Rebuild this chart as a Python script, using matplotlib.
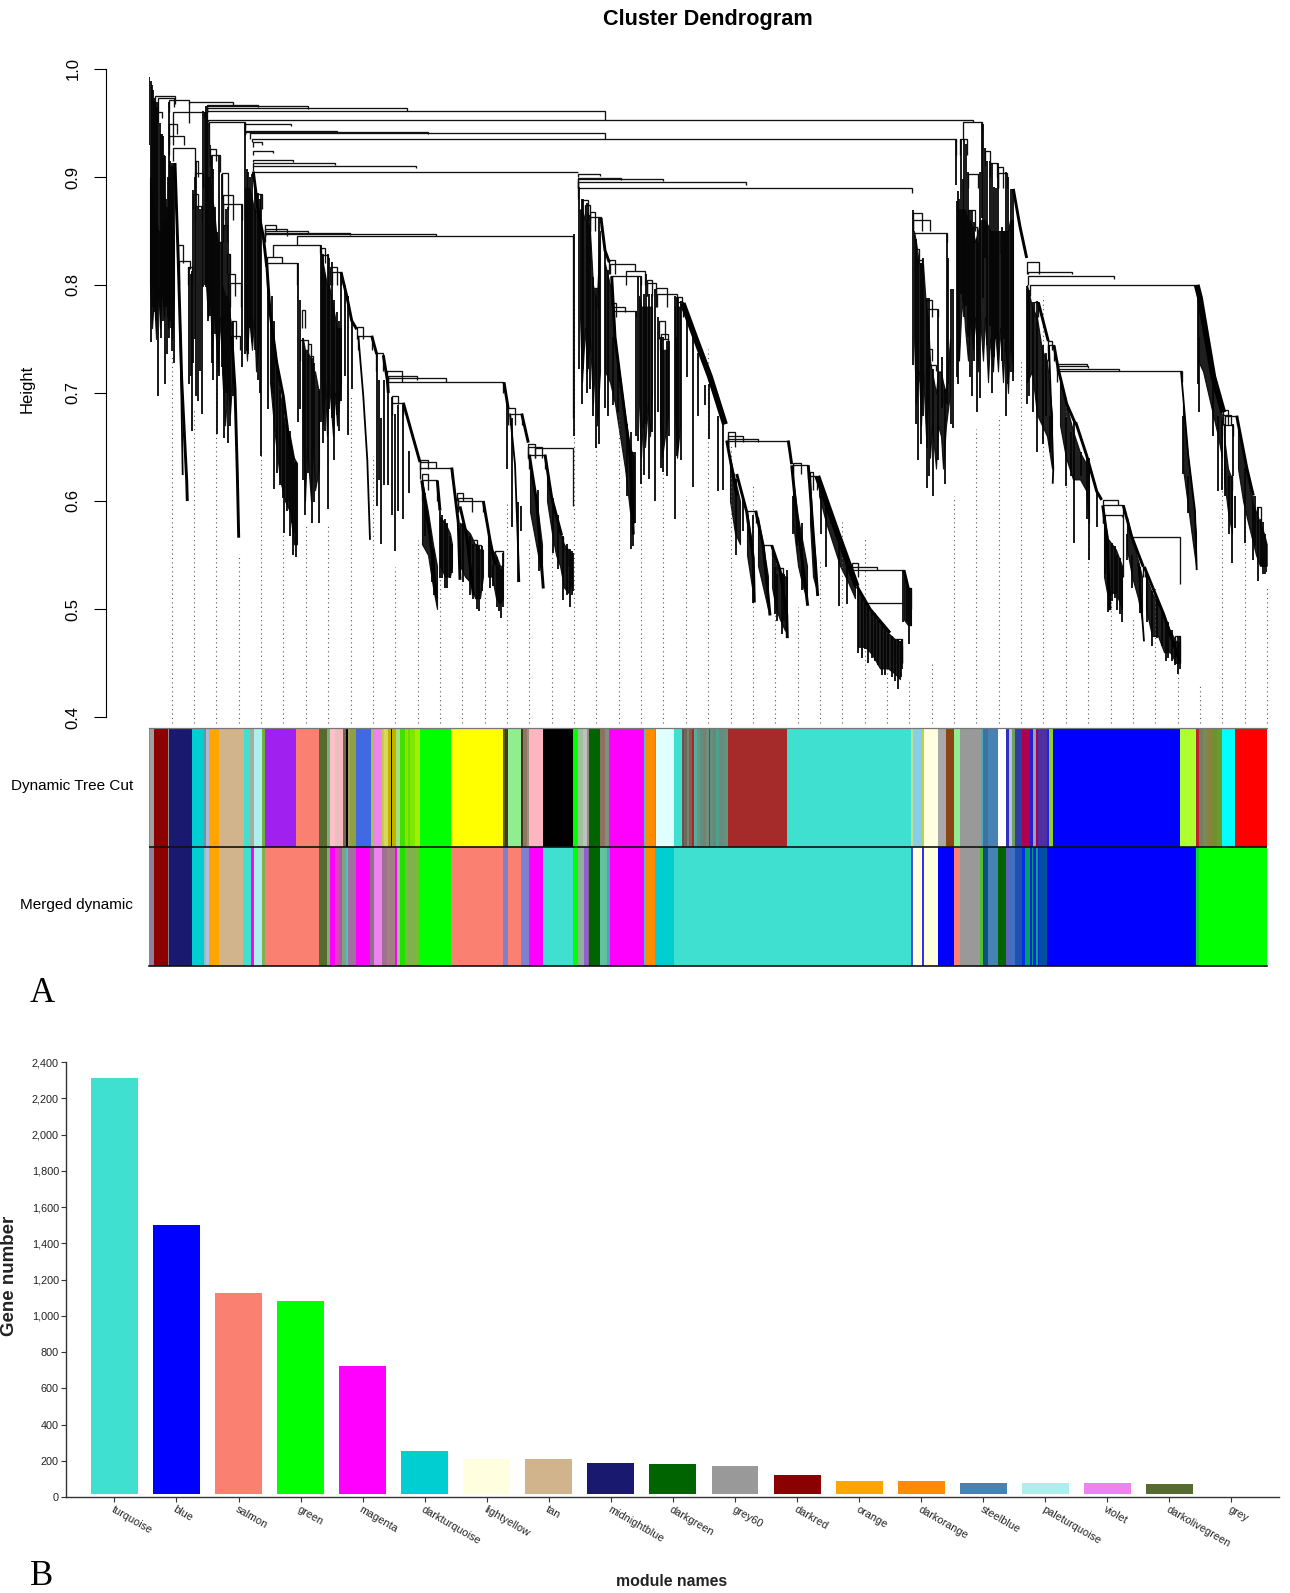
import matplotlib
matplotlib.use("Agg")
import matplotlib.pyplot as plt
from matplotlib import font_manager
from matplotlib.collections import LineCollection
import numpy as np

W, H = 1290, 1593
plt.rcParams['font.family'] = ['Liberation Sans', 'DejaVu Sans']
installed = {f.name for f in font_manager.fontManager.ttflist}
narrow = 'Liberation Sans Narrow' if 'Liberation Sans Narrow' in installed else 'Liberation Sans'
bar_label_size = 9.6 if narrow != 'Liberation Sans' else 7.8

# ---------- dendrogram data: (leaf position, height) ----------
# merges: left position, right position, merge height, left child height, right child height
merges_top = [
 (155,175,.975,.95,.968),(158,174,.973,.96,.965),(169,189.3,.971,.96,.968),(189.3,232.7,.969,.95,.966),
 (206.7,258.3,.967,.96,.965),(207.3,307.7,.966,.96,.963),(207,406.7,.9635,.96,.961),(207,605,.961,.95,.953),
 (208,973,.953,.951,.951),(209,245,.951,.93,.945),(245,290.7,.949,.94,.947),(245,336.7,.943,.94,.941),
 (245,428,.942,.94,.94),(250,605,.941,.935,.935),(252,956,.935,.932,.92),
 (253,262,.932,.928,.93),(253,273,.924,.92,.922),(253,293,.916,.914,.914),(253,335,.913,.91,.911),
 (253,416,.910,.906,.908),(253,578,.905,.90,.905),
 (578,600,.903,.90,.901),(578,621,.899,.89,.897),(578,663,.898,.89,.896),(578,746,.895,.89,.893),(578,912,.890,.88,.885),
]
merges_a = [
 (158,162,.96,.95,.955),(173,204,.96,.93,.955),(169,177,.949,.93,.94),(169,184,.938,.92,.93),(173,195,.927,.915,.915),
 (195,198.3,.915,.90,.90),(195,202.7,.904,.89,.89),(193,198,.884,.87,.87),(195,202,.873,.86,.86),
 (178,183,.837,.82,.82),(179,190,.822,.80,.815),(188,192,.817,.80,.80),
 (210,216,.926,.91,.915),(211,220,.920,.90,.905),(222,228,.904,.88,.87),(223,233,.883,.86,.86),(223,242,.875,.85,.86),
 (223,227,.856,.84,.84),(227,230,.829,.81,.81),(228,235,.810,.79,.79),(230,241,.802,.78,.78),(232,236,.767,.75,.75),(231,240,.753,.74,.74),
 (256,262.3,.884,.87,.87),
]
merges_b = [
 (265,275.7,.856,.85,.85),(265,286.7,.852,.845,.845),(265,308,.850,.845,.848),(265,350,.848,.845,.846),(265,435.7,.847,.84,.845),
 (296.7,573.3,.845,.837,.677),(273,320,.837,.826,.83),(266.7,281.7,.826,.82,.82),(266.7,296.7,.820,.80,.80),
 (301.7,305,.777,.76,.76),(300,308,.749,.73,.74),(307.7,311,.745,.73,.73),(308,312.7,.734,.72,.72),
 (320.7,325,.834,.82,.82),(321.7,328.3,.828,.81,.81),(330,336.7,.817,.80,.80),(331.7,341,.812,.80,.80),
 (356.7,363.3,.761,.75,.75),(358,371.7,.753,.74,.74),(376,383.3,.737,.72,.72),
 (386.7,401.7,.72,.71,.71),(388,416.7,.716,.71,.712),(388,445.7,.714,.71,.71),(388.3,503.3,.710,.70,.70),
 (391.7,398.3,.697,.69,.69),(391.7,403.3,.691,.68,.68),(420,428.3,.638,.63,.63),(420,436,.636,.63,.631),(420,451.7,.631,.62,.62),
 (421.7,428.3,.625,.61,.61),(421.7,437.3,.619,.60,.60),(456.7,463.3,.607,.60,.60),(458,471.7,.603,.59,.59),(458,483.3,.600,.59,.59),
 (470,476.7,.564,.55,.55),(473,481,.559,.55,.55),(495,502.7,.554,.54,.54),
 (508.3,515,.686,.67,.67),(510,521.7,.681,.67,.67),(528.3,535,.653,.64,.64),(528.3,541.7,.65,.64,.64),(535,573.3,.649,.64,.595),
 (529,545,.643,.63,.63),(561.7,563.3,.567,.55,.55),(563.3,568.3,.556,.54,.54),
]
merges_c = [
 (581.7,588.3,.879,.86,.86),(585,590,.874,.86,.86),(590,595,.868,.85,.85),(590,601,.863,.85,.85),(593.3,597.3,.797,.78,.78),
 (609.3,615,.823,.81,.81),(610,635,.819,.81,.813),(626,645,.813,.80,.80),(610.7,640.7,.808,.80,.80),
 (612.7,616,.783,.77,.77),(613,625,.78,.77,.775),(613,636,.776,.77,.77),
 (646.7,652.3,.805,.79,.79),(647.3,656,.802,.79,.79),(656,666.7,.797,.78,.78),(656.7,676.7,.792,.78,.78),
 (676,681.7,.789,.78,.78),(676.7,682.7,.784,.77,.77),(659,665,.767,.75,.75),(660.7,668.3,.755,.74,.74),(660,668,.75,.74,.74),
 (728,735,.664,.65,.65),(728,743,.66,.65,.655),(728,758.3,.657,.65,.655),(728.3,788.3,.656,.65,.65),
 (746.7,755.7,.591,.58,.58),(763.3,771.7,.559,.55,.55),(775,783.3,.538,.53,.53),
 (792.7,801,.635,.625,.625),(793,808.3,.633,.62,.62),(810,813.3,.627,.61,.61),(810,817.3,.623,.61,.61),
 (851.7,857.7,.543,.53,.53),(851.7,877,.539,.53,.536),(851.7,904,.536,.53,.536),(866.7,903.3,.506,.49,.505),
 (891.7,902.3,.472,.45,.45),(895,901.7,.466,.45,.45),(908.3,911,.519,.50,.50),
]
merges_d = [
 (913.3,921.7,.867,.85,.85),(913.3,930,.86,.85,.85),(914.3,947.3,.848,.84,.84),(915.7,921.7,.823,.81,.81),(915.7,919,.833,.82,.82),
 (925.7,931.7,.786,.77,.77),(925.7,938.3,.778,.76,.77),(927.3,931.7,.741,.73,.73),(928,935.7,.726,.71,.72),(943.3,946.7,.702,.69,.69),
 (963.3,981.7,.951,.935,.94),(960,966.7,.935,.92,.92),(985,990,.924,.91,.91),(990,996.7,.913,.90,.90),
 (998.3,1003.3,.909,.89,.89),(998.3,1007.3,.904,.89,.89),(968.3,978.3,.903,.89,.89),(968.3,975,.869,.85,.85),(973.3,976.7,.854,.84,.84),(1000,1005,.848,.83,.83),
 (1026.7,1039.3,.821,.81,.81),(1028.3,1071.7,.812,.81,.81),(1028.3,1114,.808,.80,.806),(1030,1196.7,.8,.79,.79),
 (1034,1038,.784,.77,.77),(1048,1051.7,.748,.74,.74),(1048,1054,.744,.73,.73),
 (1056.7,1086.7,.727,.72,.725),(1056.7,1088.3,.725,.72,.723),(1056.7,1119.3,.722,.72,.72),(1056.7,1181.7,.72,.71,.71),
 (1102.7,1118.3,.601,.59,.596),(1102.7,1123.3,.596,.58,.53),(1103.3,1121.7,.587,.58,.585),
 (1131.7,1180,.567,.56,.523),(1143.3,1145,.539,.53,.53),(1175,1180,.475,.45,.45),
 (1223.3,1227.7,.684,.67,.67),(1223.3,1230.7,.68,.67,.67),(1225,1236.7,.679,.67,.67),(1224.3,1233.3,.67,.66,.66),
 (1228.3,1232.3,.623,.61,.61),(1257.3,1260.7,.594,.58,.58),
]

# single branches hanging from the merges: position, top height, bottom height
branches_a = [
 (149.3,.993,.93),(150.5,.989,.747),(151.5,.985,.78),(152.7,.981,.798),(154,.973,.775),(155,.97,.79),(156,.969,.767),(157,.965,.79),
 (158.3,.969,.697),(159.5,.95,.78),(160.7,.94,.751),(161.7,.94,.79),(162.7,.938,.767),(163.7,.92,.78),(164.7,.919,.708),(165.7,.88,.78),
 (166.7,.872,.736),(167.7,.90,.77),(168.7,.969,.751),(170,.915,.767),(171,.91,.76),(172.3,.913,.739),(173.3,.91,.76),(174.3,.913,.728),
 (189.3,.817,.708),(191,.81,.716),(191.7,.813,.665),(193.3,.888,.728),(195,.90,.75),(196,.915,.697),(198.3,.872,.693),(200,.87,.72),(201.7,.872,.681),(203.3,.961,.798),
 (204.7,.96,.80),(206,.966,.798),(207.2,.96,.80),(208.3,.95,.767),(210,.93,.771),(211.7,.919,.728),(213.3,.907,.712),(215,.872,.755),(217.3,.849,.662),
 (219.3,.919,.716),(221.7,.903,.724),(224.3,.856,.658),(226,.87,.70),(227.7,.872,.654),(230,.829,.669),(233.3,.767,.697),
 (241.7,.874,.724),(245,.95,.736),(246.7,.907,.739),(248.3,.905,.736),(250,.90,.76),(251.7,.903,.747),(255,.89,.74),(257.7,.885,.712),(259.5,.88,.70),(261,.884,.642),
]
branches_b = [
 (268.3,.806,.685),(272,.79,.70),(274.3,.767,.611),(276.7,.728,.626),(280,.704,.615),(282.7,.70,.603),(284,.673,.57),(286.7,.673,.591),(288,.66,.60),
 (290,.665,.568),(292,.65,.58),(293.3,.638,.55),(295,.636,.57),(296,.636,.548),(297.7,.82,.673),(300,.786,.685),
 (302.7,.751,.619),(305,.739,.587),(307.7,.736,.626),(311.7,.732,.58),(314.3,.728,.599),(319,.704,.58),
 (320.7,.837,.673),(322.7,.829,.654),(325,.81,.665),(327.7,.829,.593),(329.3,.825,.685),(331.7,.821,.677),(334,.786,.638),(336.7,.775,.68),(339.3,.767,.665),(341,.81,.693),
 (345,.80,.716),(348.3,.79,.661),(351.7,.767,.704),(376.7,.736,.595),(379.3,.712,.619),(380.7,.677,.56),(384,.712,.615),(388.3,.708,.615),
 (391.7,.696,.587),(395,.681,.554),(398.3,.689,.591),(403.3,.689,.583),(409,.646,.607),
 (425,.607,.568),(431.7,.556,.525),(434,.556,.513),(440,.591,.529),(442.3,.587,.529),(445,.583,.519),(447.3,.58,.519),(450,.568,.529),(451.7,.56,.533),
 (463.3,.58,.525),(470,.568,.513),(473.3,.56,.509),(476.7,.56,.50),(479,.558,.498),(481.7,.558,.517),
 (490,.564,.519),(493.3,.541,.521),(496.7,.548,.502),(499.3,.541,.498),(501,.537,.492),(502.7,.552,.502),
 (506.7,.689,.63),(511.7,.677,.576),(518.3,.599,.525),(520.7,.595,.572),(538.3,.61,.58),(539.3,.58,.535),
 (553.3,.603,.552),(558.3,.587,.537),(563.3,.568,.508),(566.7,.56,.513),(570,.556,.502),(571.7,.554,.513),(573,.552,.517),
 (574,.847,.66),
]
branches_c = [
 (579.3,.891,.722),(581.7,.88,.69),(583.3,.88,.722),(586.7,.876,.70),(588.3,.868,.722),(590,.865,.704),(593.3,.807,.679),(596,.796,.649),(599.3,.862,.653),
 (605,.832,.686),(608.3,.814,.679),(613.3,.752,.689),(617.7,.733,.682),(626.7,.671,.605),(630.7,.664,.556),(633.3,.645,.558),(635,.645,.58),(636,.776,.66),
 (638.3,.807,.656),(640.7,.807,.616),(644,.792,.624),(646,.81,.671),(648.7,.792,.62),(651.7,.792,.664),(655,.796,.6),(658.3,.77,.682),(660.7,.752,.631),
 (663.3,.752,.627),(666.7,.748,.623),(669,.748,.66),(675,.79,.583),(677.3,.752,.642),(678.3,.788,.649),(681,.785,.638),
 (686.7,.767,.715),(693.3,.752,.613),(698.3,.737,.679),(705,.707,.689),(709.3,.708,.657),(718.3,.679,.609),(722.7,.679,.61),
 (736,.62,.55),(742.7,.605,.572),(753.3,.587,.506),(775,.539,.495),(777.3,.532,.489),(781.7,.532,.477),(784,.532,.489),(786.7,.536,.473),
 (792.7,.605,.569),(796.7,.587,.558),(801.7,.58,.518),(820.7,.605,.569),(826,.598,.539),(839,.569,.503),(846.7,.547,.505),
 (858.3,.521,.459),(861.7,.51,.455),(865,.506,.463),(868.3,.503,.45),(871.7,.499,.455),(875,.496,.452),(878.3,.492,.448),(881.7,.484,.439),
 (885,.481,.439),(888.3,.477,.444),(891.7,.475,.437),(895,.471,.433),(898.3,.472,.426),(900.7,.47,.437),(902.3,.472,.444),
 (903.3,.536,.488),(906.7,.525,.488),(909.3,.519,.468),(911,.519,.484),
]
branches_d = [
 (913.3,.869,.726),(915.7,.843,.671),(918.3,.825,.638),(921,.82,.653),(923.3,.825,.679),(926.7,.788,.649),(929.3,.788,.623),(933.3,.722,.605),(927.3,.726,.612),
 (938.3,.777,.638),(941.7,.733,.686),(945,.704,.616),(946.7,.847,.69),(948.3,.825,.708),(950.7,.796,.671),(953.3,.796,.668),
 (956,.935,.893),(956.7,.878,.715),(958.3,.887,.708),(959.5,.88,.73),(960.7,.935,.792),(962.7,.898,.785),(964.3,.935,.77),(966,.931,.781),(968.3,.905,.752),
 (970,.869,.715),(971.7,.869,.697),(974,.858,.73),(976.7,.843,.682),(978.3,.84,.73),(980,.905,.695),(981.7,.951,.862),(983.3,.949,.788),(985,.927,.825),
 (987.3,.915,.744),(990,.915,.762),(991.7,.913,.70),(994.3,.891,.733),(996.5,.89,.75),(998.3,.913,.731),(1001.7,.854,.73),(1004,.85,.75),(1006,.905,.679),
 (1008.3,.90,.708),(1011,.889,.719),(1013.3,.889,.711),
 (1026.7,.799,.69),(1029.3,.795,.697),(1032.7,.784,.682),(1036.7,.785,.645),(1043,.744,.653),(1046,.737,.679),(1050,.679,.645),
 (1065.7,.678,.614),(1071,.664,.623),(1074.3,.673,.561),(1080.7,.645,.623),(1086.7,.642,.583),(1089,.64,.545),(1096.7,.609,.576),
 (1105,.587,.532),(1108.3,.565,.497),(1111.7,.561,.507),(1115,.558,.51),(1117.3,.55,.499),(1120,.547,.495),(1122.3,.54,.488),
 (1126.7,.569,.545),(1131.7,.55,.519),(1140,.539,.496),
 (1146.7,.532,.488),(1151.7,.517,.466),(1156.7,.51,.473),(1161.7,.4995,.466),(1166,.488,.452),(1168.3,.488,.455),(1171.7,.481,.452),(1175,.47,.448),(1178.3,.475,.44),(1180,.475,.444),
 (1183.3,.679,.625),(1187.7,.623,.589),
 (1198.3,.788,.708),(1199.3,.752,.682),(1213.3,.715,.66),(1218.3,.679,.609),(1222.3,.675,.61),(1225,.671,.605),(1229,.623,.569),(1231.7,.623,.543),(1233.3,.671,.623),(1235,.605,.575),
 (1245,.631,.561),(1252.7,.605,.545),(1255,.605,.558),(1258.3,.594,.526),(1261,.583,.54),(1263.3,.581,.532),(1265,.569,.532),(1266.7,.561,.534),
]

# densely packed descents, traced as height against position
descents_thin = [
 [(180,.774),(182.7,.624)],[(510,.681),(515,.634),(519.3,.525)],[(1049,.744),(1053.3,.63),(1052.7,.616)],
 [(1138.3,.543),(1144,.47)],[(1181,.72),(1188.3,.642),(1195,.591),(1196.7,.536)],[(358.3,.753),(363.3,.697),(367.3,.638),(370,.564)],
]
descents_mid = [
 [(175,.913),(178.3,.821),(181.7,.712),(184,.669),(186.7,.619),(187.3,.600)],
 [(231.7,.753),(235,.704),(237.3,.626),(238.7,.566)],
 [(253.3,.905),(258.3,.868),(263.3,.845),(266.7,.817)],
 [(266.7,.82),(270,.775),(276.7,.728),(283.3,.697),(288.3,.661),(293.3,.638)],
 [(341,.812),(346.7,.79),(351.7,.767),(356.7,.759)],
 [(371.7,.753),(376.7,.736)],[(383.3,.735),(387.3,.712),(388.3,.70)],
 [(403.3,.691),(413.3,.658),(420,.636)],[(421.7,.619),(430,.568),(436.7,.51)],[(437.3,.619),(440,.591)],
 [(451.7,.631),(458.3,.58),(460,.527)],[(460,.595),(466.7,.568),(473.3,.513)],[(483.3,.60),(490,.564),(495,.541)],
 [(504,.71),(508.3,.685)],[(521.7,.681),(528.3,.654)],[(529.3,.643),(536.7,.599),(543.3,.519)],[(545,.643),(551.7,.603),(561.7,.568)],
 [(601,.862),(605,.832),(609.3,.821)],[(611.7,.808),(615,.752),(620,.715),(625,.679),(630,.642),(633.3,.569)],
 [(726.7,.656),(733.3,.623),(736.7,.605)],[(736.7,.625),(746.7,.59)],[(746.7,.59),(753.3,.547),(754.3,.506)],
 [(755.7,.591),(763.3,.558),(770,.494)],[(771.7,.559),(780,.536),(786.7,.495),(787.3,.473)],
 [(788.3,.656),(791.7,.634)],[(791.7,.633),(796.7,.587),(807.7,.503)],[(808.3,.633),(813.3,.569),(817.7,.512)],
 [(857,.521),(870,.50),(890,.478)],[(904,.536),(908.3,.519)],
 [(1013.3,.889),(1020,.854),(1026.7,.825)],[(1038.3,.784),(1048.3,.748)],[(1054,.744),(1058.3,.722),(1066.7,.69),(1075.7,.671)],
 [(1075.7,.673),(1086.7,.642),(1096.7,.609),(1101.7,.601)],[(1102.7,.596),(1106.7,.569),(1110,.499)],
 [(1123.3,.596),(1131.7,.567),(1143.3,.539)],[(1144.3,.539),(1163.3,.496),(1179.3,.452)],
 [(1236.7,.679),(1246.7,.631),(1253.3,.605)],
]
descents_heavy = [
 [(682.7,.783),(695,.752),(710,.715),(725,.671)],[(817.3,.623),(836.7,.572),(856.7,.521)],
 [(1196.7,.8),(1200,.788),(1213.3,.715),(1223.3,.682)],
]

# black masses where branches merge into one another: position, upper height, lower height
masses = [
 [(150,.90,.80),(152,.89,.76),(154,.87,.79),(156,.86,.75),(158,.85,.80),(160,.85,.76),(162,.85,.80),(164,.86,.77),(166,.86,.81),(168,.87,.76),(170,.87,.80),(172,.86,.75),(174,.85,.79)],
 [(206,.90,.80),(208,.90,.77),(210,.90,.79),(212,.88,.74),(214,.87,.78),(216,.85,.75),(218,.84,.72),(220,.84,.77),(222,.84,.73)],
 [(222,.80,.72),(225,.79,.67),(228,.79,.71),(230,.77,.68),(232,.76,.71)],
 [(245,.89,.76),(247,.89,.73),(249,.89,.77),(252,.88,.74),(254,.87,.77),(256,.87,.72),(259,.86,.75)],
 [(270,.77,.71),(275,.74,.66),(280,.70,.62),(285,.67,.60),(290,.66,.59),(294,.64,.56),(297,.635,.56)],
 [(303,.75,.66),(305,.74,.60),(307,.74,.65),(311,.73,.60),(313,.72,.66),(315,.72,.61),(319,.70,.63)],
 [(321,.83,.72),(323,.82,.67),(325,.81,.71),(327,.80,.66),(329,.80,.71),(333,.78,.66),(335,.77,.70),(337,.76,.67),(341,.76,.71)],
 [(422,.62,.56),(428,.59,.55),(433,.56,.52),(437,.54,.50)],
 [(440,.585,.54),(445,.58,.53),(450,.57,.53),(452,.56,.54)],
 [(460,.58,.54),(465,.575,.53),(470,.57,.525),(475,.56,.51),(480,.555,.51),(483,.555,.53)],
 [(488,.57,.53),(492,.555,.53),(496,.55,.51),(500,.54,.505),(503,.54,.51)],
 [(530,.63,.59),(534,.61,.57),(538,.59,.55),(542,.56,.53)],
 [(547,.63,.60),(552,.60,.57),(556,.585,.55),(560,.57,.54),(564,.56,.52),(568,.555,.515),(572,.55,.525)],
 [(580,.87,.77),(582,.87,.71),(585,.86,.76),(587,.86,.72),(590,.85,.75),(593,.80,.69),(595,.79,.73),(597,.79,.67),(600,.85,.72)],
 [(605,.82,.72),(610,.80,.71),(615,.75,.69),(620,.715,.66),(625,.68,.63),(630,.65,.59),(634,.64,.58)],
 [(639,.79,.69),(641,.78,.64),(643,.78,.68),(645,.78,.65),(648,.78,.69),(650,.78,.66),(652,.78,.70)],
 [(660,.74,.67),(662,.74,.64),(665,.74,.66),(668,.74,.68)],[(675,.78,.68),(677,.78,.64),(680,.78,.67)],
 [(730,.64,.60),(735,.62,.57),(740,.60,.56)],[(747,.59,.55),(752,.56,.52)],
 [(758,.585,.54),(763,.56,.52),(768,.53,.50)],[(772,.555,.52),(776,.54,.50),(780,.535,.49),(785,.53,.48),(787,.53,.48)],
 [(793,.62,.58),(798,.585,.54),(803,.56,.52),(807,.54,.51)],[(810,.62,.58),(813,.57,.53),(816,.54,.52)],
 [(819,.62,.605),(826,.60,.58),(833,.58,.56),(840,.565,.54),(848,.545,.525),(855,.525,.51)],
 [(858,.52,.465),(865,.505,.465),(872,.498,.458),(880,.487,.445),(888,.478,.445),(895,.472,.44),(900,.47,.435)],
 [(904,.53,.49),(908,.52,.485),(911,.515,.485)],
 [(914,.85,.75),(916,.84,.69),(919,.82,.72),(921,.82,.67),(923,.82,.72),(926,.78,.66),(928,.77,.70),(930,.73,.64),(932,.72,.67),(936,.70,.63),(938,.72,.67),(941,.72,.66),(943,.71,.63),(946,.70,.67),(950,.75,.70)],
 [(957,.87,.78),(959,.87,.73),(961,.87,.77),(963,.87,.79),(965,.87,.76),(968,.86,.73),(970,.86,.77),(973,.85,.74),(975,.84,.77),(978,.85,.72),(980,.86,.77),(983,.86,.73),(985,.86,.77),(988,.855,.71),(990,.85,.75),(993,.85,.72),(995,.85,.76),(998,.85,.72),(1000,.85,.76),(1003,.85,.71),(1005,.85,.75),(1008,.85,.70),(1010,.86,.75),(1013,.86,.72)],
 [(1027,.80,.71),(1032,.78,.72),(1037,.77,.68),(1042,.74,.67),(1047,.73,.66),(1052,.68,.63)],
 [(1060,.71,.67),(1066,.69,.64),(1073,.665,.62),(1080,.645,.62),(1086,.635,.61),(1089,.63,.58)],
 [(1104,.585,.53),(1108,.565,.51),(1112,.56,.515),(1116,.555,.515),(1120,.545,.505),(1122,.54,.50)],
 [(1127,.585,.555),(1132,.565,.53),(1138,.545,.51),(1142,.53,.49)],
 [(1146,.53,.50),(1152,.515,.475),(1158,.505,.475),(1164,.495,.46),(1170,.48,.46),(1176,.47,.45),(1180,.47,.45)],
 [(1183,.69,.63),(1188,.64,.595),(1193,.60,.56),(1196,.57,.54)],
 [(1198,.78,.73),(1203,.76,.72),(1208,.74,.70),(1213,.715,.68),(1218,.69,.66),(1222,.68,.64)],
 [(1224,.66,.62),(1228,.63,.59),(1232,.62,.57)],
 [(1238,.67,.63),(1243,.645,.60),(1248,.62,.58),(1252,.60,.565),(1256,.59,.55),(1260,.58,.54),(1264,.57,.54),(1266.7,.56,.54)],
]

# heights at which the dotted guides meet the tree, left to right
guide_tops = [.736,.685,.708,.551,.650,.574,.580,.578,.697,.642,.539,.564,.545,.525,.517,.599,.564,.560,.790,
              .71,.679,.668,.679,.605,.741,.653,.616,.502,.502,.546,.581,.566,.448,.435,.452,
              .605,.667,.679,.730,.79,.697,.598,.543,.492,.521,.460,.429,.682,.605,.521]

# ---------- module colour strips: right edge of each run and its colour ----------
row1_edges = [150,154,167.7,169.3,192.3,204,206,209.3,219.3,243.7,250.3,254,261.7,265,296,319.3,327.3,330,335.3,340,342.7,345.7,347.7,350,356,371.3,374.3,382.3,384.3,388.3,391.3,392.3,395.7,400,405,407.7,410,415,419.7,451,502.7,505,508.3,521.3,522.7,526.7,529,542.7,
 573.3,577.7,583.3,586.7,589,600,605,609.3,644,645.7,655,656,674.3,681.7,684,686.7,689,691.7,693.7,696.7,700,703,706,709.3,710,713,716,719,722,725,727.7,787.3,911,
 913.3,922.3,924,937.7,946.3,954.3,960,981,983.3,988.3,997.7,1006,1009,1012,1015,1021.7,1030,1033.3,1035.7,1037.7,1046.7,1049.3,1053.3,1180,1196.3,1199,1203,1206.7,1211.7,1216.7,1221.7,1235.3,1267.3]
row1_colors = ['#7090c0','#a0a0a0','darkred','#909090','midnightblue','darkturquoise','#7090a0','#b0b8d8','orange','tan','turquoise','#a0b0a0','paleturquoise','#70b040','#a020f0','salmon','darkolivegreen','#80b070','pink','#e8c0c0','lightpink','#706850','black','#a0a060','#90a040','royalblue','#b0c040','violet','#c0d040','#d8d860','#c0b000','black','#c0b000','#a0e080','#40e000','#90e000','#60e000','#80e800','#a0f000','lime','yellow','#605830','#404020','lightgreen','#403020','#907860','#a09080','lightpink',
 'black','lime','#a0c0a0','#c0c0c0','#909080','darkgreen','#907060','#809080','magenta','#50c0c0','darkorange','#909090','lightcyan','turquoise','#705050','#6a6a5a','#808070','#8a5a50','brown','#50b0a0','#709080','#5f8f80','#7a8070','#70907f','brown','#609080','#6a8878','#50a090','#708878','#5f9080','#6a9080','brown','turquoise',
 '#c0e090','skyblue','#c0d040','lightyellow','darkgrey','saddlebrown','lightgreen','#999999','#40b0c0','#4070a0','steelblue','white','#3030c0','#c0c0e0','#70a060','#3040a0','#b00050','#2020d0','#a0a0a0','#a00060','#5030a0','#2020f0','#90d020','blue','greenyellow','#c02030','#708060','#7a8a50','#908040','#709030','#60a030','cyan','red']
row2_edges = [150,154,167.7,169.3,192.3,204,205.7,209.3,219.3,243.3,251,253.7,261.7,265,319.3,327.3,330,335,339.3,341.7,345.7,348.3,356,370,374.3,382.3,386.7,395,397.3,400,405,408.3,415,419.3,451,502.7,508.3,521,529,542.7,
 573.3,577.7,584,588.3,589,600,607.3,610,644,645.7,655.3,674.3,682.7,683,911,913.3,921.7,924,937.7,954.3,960,980,982.7,988.3,997.7,1006,1009,1015,1021.7,1025,1030,1032.3,1033.3,1035.7,1037.7,1039.3,1046.7,1196,1199,1267.3]
row2_colors = ['#8080d0','#9080a0','darkred','#808090','midnightblue','darkturquoise','#90c0c0','#b0c0e0','orange','tan','turquoise','magenta','paleturquoise','#80b050','salmon','darkolivegreen','#80b070','magenta','#e040c0','#a060a0','#80a080','#50c0c0','#a070a0','magenta','#907090','violet','#a07090','#a08080','magenta','#a0c090','#20e000','#70c030','#80b050','#70c030','lime','salmon','#8080d0','salmon','#8080d0','magenta',
 'turquoise','lime','#90b0a0','#9060d0','#806090','darkgreen','#60c0a0','#50a0c0','magenta','#50c0c0','darkorange','darkturquoise','turquoise','#a0a0a0','turquoise','#5050e0','lightyellow','#3030f0','lightyellow','blue','salmon','#999999','#50c030','#105080','steelblue','darkgreen','#6060c0','#4070c0','#2050b0','#0030e0','#00a060','#0020f0','#00a060','#0020f0','#00b060','#0020f0','#0050a0','blue','#00e020','lime']

# ---------- module sizes ----------
modules = ['turquoise','blue','salmon','green','magenta','darkturquoise','lightyellow','tan','midnightblue','darkgreen','grey60','darkred','orange','darkorange','steelblue','paleturquoise','violet','darkolivegreen','grey']
gene_counts = [2314,1501,1126,1082,723,255,211,209,191,184,171,121,92,88,81,77,77,75,18]
bar_colors = ['turquoise','blue','salmon','lime','magenta','darkturquoise','lightyellow','tan','midnightblue','darkgreen','#999999','darkred','orange','darkorange','steelblue','paleturquoise','violet','darkolivegreen','#f4f4f4']
gene_ticks = list(range(0,2401,200))


def axes_px(fig, x0, y0, x1, y1):
    return fig.add_axes([x0/W, 1-y1/H, (x1-x0)/W, (y1-y0)/H])


fig = plt.figure(figsize=(W/100, H/100), dpi=100, facecolor='white')

# ---------- dendrogram ----------
ax = axes_px(fig, 149, 69, 1267.3, 723)
ax.set_xlim(149, 1267.3)
ax.set_ylim(1-(723-69)/1080, 1.0)
ax.patch.set_alpha(0)
for s in ['top', 'right', 'bottom']:
    ax.spines[s].set_visible(False)
ax.spines['left'].set_position(('outward', 31.2))
ax.spines['left'].set_bounds(.4, 1.0)
ax.spines['left'].set_linewidth(.8)
ax.set_xticks([])
ax.set_yticks([.4, .5, .6, .7, .8, .9, 1.0])
ax.set_yticklabels(['0.4', '0.5', '0.6', '0.7', '0.8', '0.9', '1.0'], rotation=90, va='center', fontsize=12)
ax.tick_params(axis='y', length=9, width=.8, pad=9)
fig.text(27/W, 1-389/H, 'Height', rotation=90, ha='center', va='center', fontsize=12)

guide_x = np.linspace(171.7, 1267, len(guide_tops))
ax.vlines(guide_x, ax.get_ylim()[0], guide_tops, colors='#555555', linewidth=.8, linestyles=(0, (1, 3)), clip_on=False)

for mass in masses:
    mx, mt, mb = zip(*mass)
    ax.fill_between(mx, mb, mt, color='black', alpha=.88, linewidth=.8)

segs = []
for group in (merges_top, merges_a, merges_b, merges_c, merges_d):
    for xl, xr, h0, hl, hr in group:
        segs.append([(xl, hl), (xl, h0), (xr, h0), (xr, hr)])
ax.add_collection(LineCollection(segs, colors='#111111', linewidths=.95, capstyle='butt', joinstyle='miter'))

spikes = []
for group in (branches_a, branches_b, branches_c, branches_d):
    spikes += [[(x, t), (x, b)] for x, t, b in group]
ax.add_collection(LineCollection(spikes, colors='#050505', linewidths=1.3))
ax.add_collection(LineCollection(descents_thin, colors='black', linewidths=1.3))
ax.add_collection(LineCollection(descents_mid, colors='black', linewidths=2.1))
ax.add_collection(LineCollection(descents_heavy, colors='black', linewidths=4.2))
fig.text(708/W, 1-19.5/H, 'Cluster Dendrogram', ha='center', va='center', fontsize=15.6, fontweight='bold')

# ---------- colour strips ----------
axc = axes_px(fig, 149, 727.7, 1267.3, 965.7)
axc.set_xlim(149, 1267.3)
axc.set_ylim(0, 2)
axc.axis('off')
for edges, colors, base in ((row1_edges, row1_colors, 1), (row2_edges, row2_colors, 0)):
    left = np.r_[149, edges[:-1]]
    axc.bar(left, 1, width=np.array(edges)-left, bottom=base, align='edge', color=colors, linewidth=0)
axc.axhline(1, color='#111111', lw=1.2)
axc.axhline(0, color='#111111', lw=1.2, clip_on=False)
axc.axhline(2, color='#777777', lw=.9, clip_on=False)
fig.text(133/W, 1-786/H, 'Dynamic Tree Cut', ha='right', va='center', fontsize=11)
fig.text(133/W, 1-905/H, 'Merged dynamic', ha='right', va='center', fontsize=11)

serif = ['Liberation Serif', 'DejaVu Serif']
fig.text(42/W, 1-1002/H, 'A', ha='center', va='baseline', fontsize=25, family=serif)
fig.text(42/W, 1-1585/H, 'B', ha='center', va='baseline', fontsize=25, family=serif)

# ---------- bar chart ----------
axb = axes_px(fig, 66, 1062, 1279, 1497.3)
axb.set_xlim(-(114.4-66)/62.06, (1279-114.4)/62.06)
axb.set_ylim(0, 2400)
axb.patch.set_alpha(0)
for s in ['top', 'right']:
    axb.spines[s].set_visible(False)
for s in ['left', 'bottom']:
    axb.spines[s].set_linewidth(1.0)
    axb.spines[s].set_color('#333333')
BAR_BASE = 16
idx = np.arange(len(modules))
axb.bar(idx, np.array(gene_counts)-BAR_BASE, bottom=BAR_BASE, width=.757, color=bar_colors)
axb.set_xticks(idx)
axb.set_xticklabels(modules, rotation=-30, ha='left', va='top', rotation_mode='anchor', fontsize=bar_label_size, color='#222222', family=narrow)
axb.set_yticks(gene_ticks)
axb.set_yticklabels([f'{v:,}' for v in gene_ticks], fontsize=bar_label_size, color='#222222', family=narrow)
axb.tick_params(axis='both', length=3.6, width=.8, color='#333333', pad=1.5)
fig.text(10/W, 1-1276/H, 'Gene number', rotation=90, ha='center', va='center', fontsize=13.5, fontweight='bold', color='#222222')
fig.text(672/W, 1-1581/H, 'module names', ha='center', va='center', fontsize=11.4, fontweight='bold', color='#222222')

fig.savefig('out.png', dpi=100)
